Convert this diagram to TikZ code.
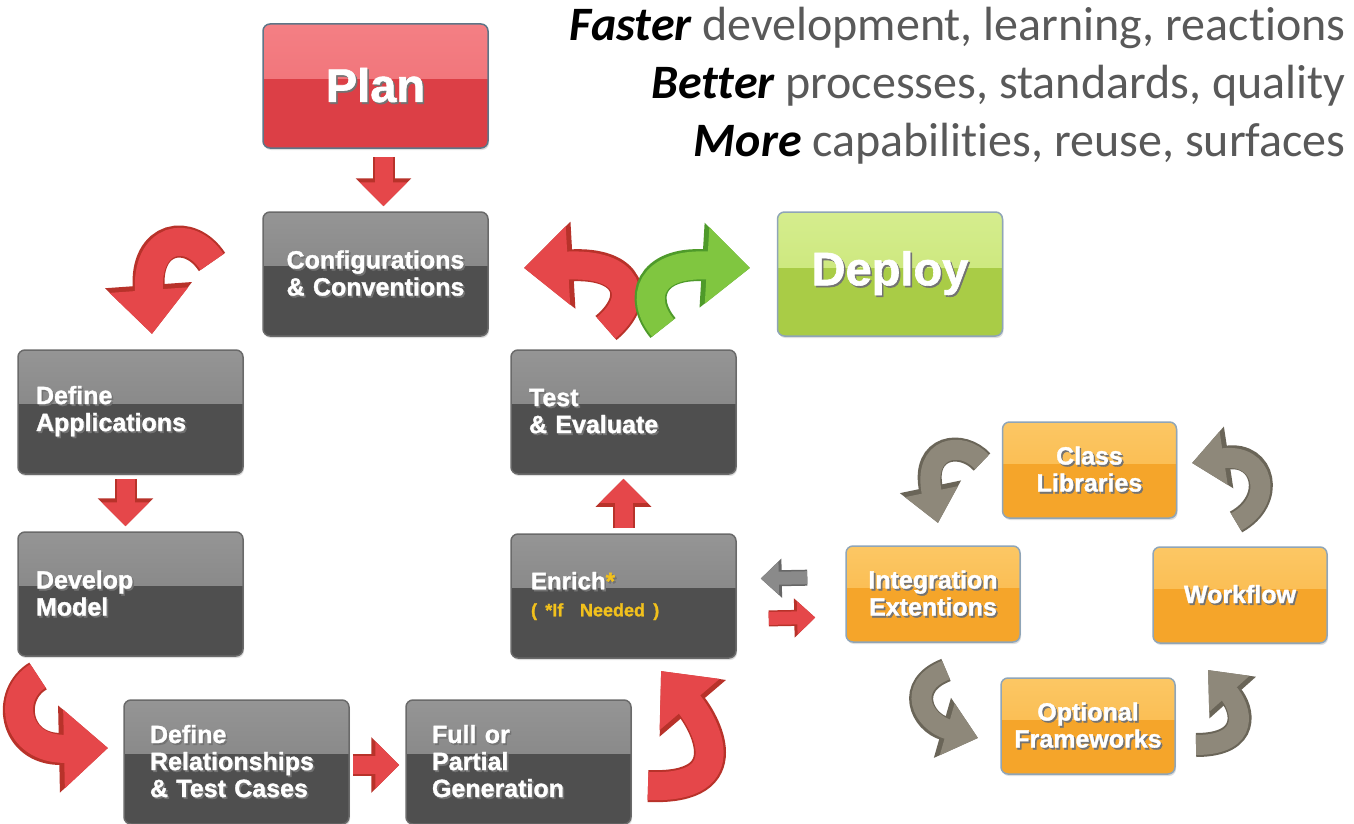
\documentclass[tikz,border=0pt]{standalone}
\usepackage{fontspec}
\setmainfont{Liberation Sans}
\newfontfamily\boxfont[BoldFeatures={FakeBold=1.3}]{Liberation Sans}
\newfontfamily\carlito[Ligatures=NoCommon]{Carlito}
\usetikzlibrary{arrows.meta,calc,shadows}
\definecolor{grayTop}{HTML}{959595}
\definecolor{grayTopB}{HTML}{7B7B7B}
\definecolor{grayBot}{HTML}{4F4F4F}
\definecolor{grayBorder}{HTML}{6A6A6A}
\definecolor{redTop}{HTML}{F47F84}
\definecolor{redTopB}{HTML}{EE6B71}
\definecolor{redBot}{HTML}{DC3F46}
\definecolor{blueBorder}{HTML}{5E7587}
\definecolor{greenTop}{HTML}{D5ED8E}
\definecolor{greenTopB}{HTML}{C5E36E}
\definecolor{greenBot}{HTML}{A9CC46}
\definecolor{lightBorder}{HTML}{8FA5B8}
\definecolor{orangeTop}{HTML}{FCC764}
\definecolor{orangeTopB}{HTML}{F9B442}
\definecolor{orangeBot}{HTML}{F5A52A}
\definecolor{arrowRed}{HTML}{E5474A}
\definecolor{arrowRedDark}{HTML}{B8322A}
\definecolor{arrowGreen}{HTML}{80C640}
\definecolor{arrowGreenDark}{HTML}{4E9A2A}
\definecolor{arrowGray}{HTML}{8E887A}
\definecolor{arrowGrayDark}{HTML}{6A6558}
\definecolor{arrowGrayS}{HTML}{8A8A8A}
\definecolor{goldText}{HTML}{F2C11C}
\definecolor{textGray}{HTML}{595959}
\newcommand\starcol{goldText}
\newcommand\gstar{\textcolor{\starcol}{*}}
\newcommand\shd[1]{\leavevmode\rlap{\hspace{1.6pt}\raisebox{-1.8pt}{\renewcommand\starcol{black!55}\textcolor{black!55}{#1}}}#1}
\tikzset{
  basebox/.style={rounded corners=7pt, line width=1.5pt, inner sep=0pt, text=white,
    drop shadow={opacity=0.25, shadow xshift=1pt, shadow yshift=-2pt}},
  gloss/.style n args={4}{fill=#3, path picture={\shade[sharp corners, top color=#1, bottom color=#2]
    (path picture bounding box.north west) rectangle ([yshift=#4]path picture bounding box.east);}},
  graybox/.style={basebox, draw=grayBorder, gloss={grayTop}{grayTopB}{grayBot}{9pt},
    minimum width=225pt, minimum height=124pt, align=left, text width=#1,
    font=\boxfont\bfseries\fontsize{25}{27}\selectfont},
  bigbox/.style={basebox, gloss={#1Top}{#1TopB}{#1Bot}{7pt},
    minimum width=225pt, minimum height=124pt, font=\boxfont\bfseries\fontsize{47}{50}\selectfont},
  orangebox/.style={basebox, draw=lightBorder, gloss={orangeTop}{orangeTopB}{orangeBot}{7pt},
    minimum width=174pt, minimum height=96pt, align=center,
    font=\boxfont\bfseries\fontsize{25}{27}\selectfont},
  fatred/.style={preaction={draw=arrowRedDark, line width=22pt, -{Triangle[width=54pt,length=28pt]}},
    draw=arrowRed, line width=18pt, -{Triangle[width=46pt,length=24pt]}},
  smallred/.style={preaction={draw=arrowRedDark, line width=16pt, -{Triangle[width=38pt,length=21pt]}},
    draw=arrowRed, line width=13pt, -{Triangle[width=32pt,length=18pt]}},
  smallgray/.style={preaction={draw=black!60, line width=16pt, -{Triangle[width=38pt,length=21pt]}},
    draw=arrowGrayS, line width=13pt, -{Triangle[width=32pt,length=18pt]}},
  curvered/.style={preaction={draw=arrowRedDark, line width=32pt, -{Triangle[width=84pt,length=49pt]}},
    draw=arrowRed, line width=28pt, -{Triangle[width=76pt,length=44pt]}},
  curvegreen/.style={preaction={draw=arrowGreenDark, line width=32pt, -{Triangle[width=82pt,length=48pt]}},
    draw=arrowGreen, line width=28pt, -{Triangle[width=74pt,length=43pt]}},
  curvegray/.style={preaction={draw=arrowGrayDark, line width=24pt, -{Triangle[width=60pt,length=37pt]}},
    draw=arrowGray, line width=20pt, -{Triangle[width=52pt,length=32pt]}},
  headline/.style={anchor=base east, text=textGray, font=\carlito\fontsize{48}{58}\selectfont}
}
\begin{document}
\begin{tikzpicture}[x=1pt,y=-1pt]
\useasboundingbox[fill=white] (0,0) rectangle (1354,824);

% top-right text
\node (l1) [headline] at (1349,41) {\textcolor{black}{\bfseries\itshape Faster} development, learning, reactions};
\node (l2) [headline] at (1349,99) {\textcolor{black}{\bfseries\itshape Better} processes, standards, quality};
\node (l3) [headline] at (1349,157) {\textcolor{black}{\bfseries\itshape More} capabilities, reuse, surfaces};

% main boxes
\node (plan) [bigbox=red, draw=blueBorder] at (375.5,86) {\shd{Plan}};
\node (config) [graybox=215pt, align=center] at (375.5,274) {\shd{Configurations}\\\shd{\& Conventions}};
\node (deploy) [bigbox=green, draw=lightBorder] at (890,274) {\shd{Deploy}};
\node (defapp) [graybox=189pt] at (130.5,412) {\shd{Define}\\\shd{Applications}};
\node (develop) [graybox=189pt] at (130.5,594) {\shd{Develop}\\\shd{Model}};
\node (defrel) [graybox=173pt] at (236.5,762) {\shd{Define}\\\shd{Relationships}\\\shd{\& Test Cases}};
\node (fullgen) [graybox=173pt] at (518.5,762) {\shd{Full or}\\\shd{Partial}\\\shd{Generation}};
\node (test) [graybox=189pt] at (623.5,412) {\shd{Test}\\\shd{\& Evaluate}};
\node (enrich) [graybox=185pt] at (623.5,596) {\fontsize{24}{22}\selectfont\shd{Enrich\gstar}\\[0pt]
  \fontsize{18}{20}\selectfont\textcolor{goldText}{( *If~~Needed )}};

% orange cycle
\node (classlib) [orangebox] at (1089.5,470) {\shd{Class}\\\shd{Libraries}};
\node (integ) [orangebox] at (933,594) {\shd{Integration}\\\shd{Extentions}};
\node (workflow) [orangebox] at (1240,595) {\shd{Workflow}};
\node (optional) [orangebox] at (1088,726) {\shd{Optional}\\\shd{Frameworks}};

% straight arrows
\draw[fatred, shorten <=8pt, shorten >=5pt] ($(plan.south)+(8,0)$) -- ($(config.north)+(8,0)$);
\draw[fatred, shorten <=4pt, shorten >=5pt] ($(defapp.south)+(-5,0)$) -- ($(develop.north)+(-5,0)$);
\draw[fatred, shorten <=5pt, shorten >=4pt] (enrich.north) -- (test.south);
\draw[fatred, shorten <=3pt, shorten >=6pt] ($(defrel.east)+(0,3)$) -- ($(fullgen.west)+(0,3)$);
\draw[smallgray, shorten <=38pt, shorten >=24pt] ($(integ.west)+(0,-17)$) -- ($(enrich.east)+(0,-17)$);
\draw[smallred, shorten <=32pt, shorten >=30pt] ($(enrich.east)+(0,23)$) -- ($(integ.west)+(0,23)$);

% curved arrows (main flow)
\coordinate (a1s) at (212,262); \coordinate (a1e) at (152,334);
\draw[curvered] (a1s) .. controls (190,228) and (145,236) .. (a1e);
\coordinate (a2s) at (606,328); \coordinate (a2e) at (524,268);
\draw[curvered] (a2s) .. controls (642,298) and (630,262) .. (a2e);
\coordinate (a3s) at (663,328); \coordinate (a3e) at (750,268);
\draw[curvegreen] (a3s) .. controls (638,298) and (650,262) .. (a3e);
\coordinate (a4s) at (38,676); \coordinate (a4e) at (108,748);
\draw[curvered] (a4s) .. controls (6,695) and (14,750) .. (a4e);
\coordinate (a5s) at (648,786); \coordinate (a5e) at (661,671);
\draw[curvered] (a5s) .. controls (745,790) and (702,719) .. (a5e);

% curved arrows (orange cycle)
\coordinate (g1s) at (982,462); \coordinate (g1e) at (938,523);
\draw[curvegray] (g1s) .. controls (962,440) and (922,446) .. (g1e);
\coordinate (g2s) at (1236,522); \coordinate (g2e) at (1192,463);
\draw[curvegray] (g2s) .. controls (1276,500) and (1264,452) .. (g2e);
\coordinate (g3s) at (946,670); \coordinate (g3e) at (978,738);
\draw[curvegray] (g3s) .. controls (905,686) and (922,722) .. (g3e);
\coordinate (g4s) at (1196,745); \coordinate (g4e) at (1208,670);
\draw[curvegray] (g4s) .. controls (1252,745) and (1242,708) .. (g4e);
\end{tikzpicture}
\end{document}
